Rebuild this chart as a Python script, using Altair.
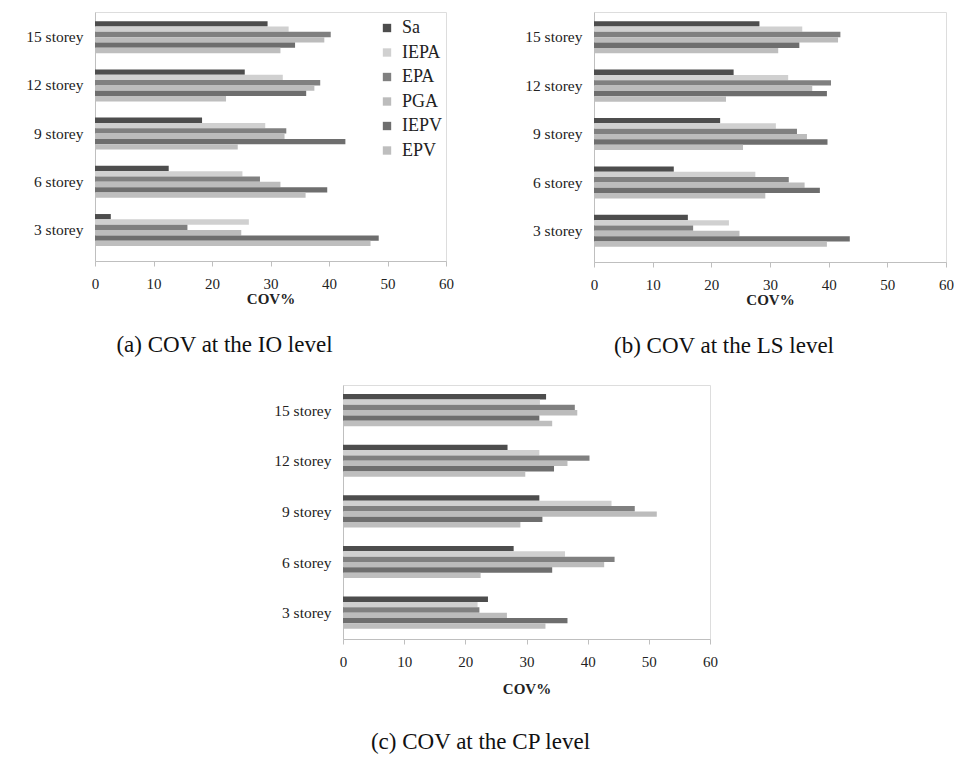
import altair as alt
import pandas as pd

storeys = ["15 storey", "12 storey", "9 storey", "6 storey", "3 storey"]
measures = ["Sa", "IEPA", "EPA", "PGA", "IEPV", "EPV"]
colors = ["#4d4d4d", "#d0d0d0", "#808080", "#bcbcbc", "#6e6e6e", "#bebebe"]

# values per storey (15, 12, 9, 6, 3) for each measure
io_Sa = [29.5, 25.6, 18.3, 12.6, 2.7]
io_IEPA = [33.1, 32.1, 29.1, 25.2, 26.3]
io_EPA = [40.3, 38.5, 32.7, 28.2, 15.8]
io_PGA = [39.2, 37.5, 32.4, 31.7, 25.0]
io_IEPV = [34.2, 36.1, 42.8, 39.7, 48.5]
io_EPV = [31.7, 22.4, 24.4, 36.0, 47.1]

ls_Sa = [28.2, 23.8, 21.5, 13.6, 16.0]
ls_IEPA = [35.5, 33.1, 31.0, 27.5, 23.0]
ls_EPA = [42.0, 40.4, 34.6, 33.2, 16.9]
ls_PGA = [41.6, 37.2, 36.3, 35.9, 24.8]
ls_IEPV = [35.0, 39.7, 39.8, 38.5, 43.6]
ls_EPV = [31.4, 22.5, 25.4, 29.2, 39.7]

cp_Sa = [33.2, 26.9, 32.1, 27.9, 23.7]
cp_IEPA = [32.2, 32.1, 43.9, 36.3, 22.0]
cp_EPA = [37.9, 40.3, 47.7, 44.4, 22.3]
cp_PGA = [38.3, 36.7, 51.3, 42.7, 26.8]
cp_IEPV = [32.1, 34.5, 32.6, 34.2, 36.7]
cp_EPV = [34.2, 29.8, 29.0, 22.5, 33.1]

x_ticks = [0, 10, 20, 30, 40, 50, 60]

SERIF = "Liberation Serif"


def long_df(series):
    rows = []
    for m, vals in zip(measures, series):
        for s, v in zip(storeys, vals):
            rows.append({"storey": s, "measure": m, "cov": v})
    return pd.DataFrame(rows)


def panel(series, caption, w, h, show_legend, title_pad, cap_offset,
          p_in, p_out, p_align):
    if show_legend:
        leg = alt.Legend(
            orient="none", legendX=283, legendY=7, title=None,
            symbolType="square", symbolSize=70, symbolStrokeWidth=0,
            labelFont=SERIF, labelFontSize=18, labelColor="#222222",
            rowPadding=6.5, labelOffset=6, padding=0,
        )
    else:
        leg = None
    return alt.Chart(long_df(series)).mark_bar(opacity=1).encode(
        y=alt.Y(
            "storey:N", sort=storeys, title=None,
            scale=alt.Scale(paddingInner=p_in, paddingOuter=p_out, align=p_align),
            axis=alt.Axis(
                labelFont=SERIF, labelFontSize=15.5, labelColor="#222222",
                ticks=False, labelPadding=12, domainColor="#bfbfbf",
            ),
        ),
        yOffset=alt.YOffset(
            "measure:N", sort=measures,
            scale=alt.Scale(paddingInner=0, paddingOuter=0),
        ),
        x=alt.X(
            "cov:Q", title="COV%",
            scale=alt.Scale(domain=[0, 60], nice=False),
            axis=alt.Axis(
                values=x_ticks, grid=False, labelFont=SERIF, labelFontSize=15,
                labelColor="#222222", tickColor="#bfbfbf", tickSize=5,
                domainColor="#bfbfbf", labelPadding=10, labelFlush=False,
                titleFont=SERIF, titleFontSize=15, titleFontWeight="bold",
                titleColor="#222222", titlePadding=title_pad,
            ),
        ),
        color=alt.Color(
            "measure:N",
            scale=alt.Scale(domain=measures, range=colors),
            legend=leg,
        ),
    ).properties(
        width=w, height=h,
        title=alt.TitleParams(
            caption, orient="bottom", anchor="middle", font=SERIF,
            fontSize=23, fontWeight="normal", color="#111111",
            offset=cap_offset, dx=-46,
        ),
    )


pa = panel([io_Sa, io_IEPA, io_EPA, io_PGA, io_IEPV, io_EPV],
           "(a) COV at the IO level", 351, 249, True, 0, 28, 0.336, 0.25, 0.38)
pb = panel([ls_Sa, ls_IEPA, ls_EPA, ls_PGA, ls_IEPV, ls_EPV],
           "(b) COV at the LS level", 352, 250, False, 0, 28, 0.336, 0.25, 0.38)
pc = panel([cp_Sa, cp_IEPA, cp_EPA, cp_PGA, cp_IEPV, cp_EPV],
           "(c) COV at the CP level", 367, 254, False, 12, 35, 0.343, 0.18, 0.5)

spacer = alt.Chart(pd.DataFrame({"s": [0]})).mark_point(opacity=0).encode(
    x=alt.value(0), y=alt.value(0)
).properties(width=178, height=10, view=alt.ViewBackground(stroke=None, strokeWidth=0))

top = alt.hconcat(pa, pb, spacing=70).resolve_scale(color="independent").resolve_legend(color="independent")
bottom = alt.hconcat(spacer, pc, spacing=0).resolve_scale(color="independent").resolve_legend(color="independent")
chart = alt.vconcat(top, bottom, spacing=23).resolve_scale(
    color="independent"
).resolve_legend(color="independent").properties(
    padding={"left": 17, "top": 3, "right": 0, "bottom": 0}
).configure_view(stroke="#d9d9d9", strokeWidth=1).configure(background="white")

chart.save("out.html", embed_options={"renderer": "svg", "actions": False})
